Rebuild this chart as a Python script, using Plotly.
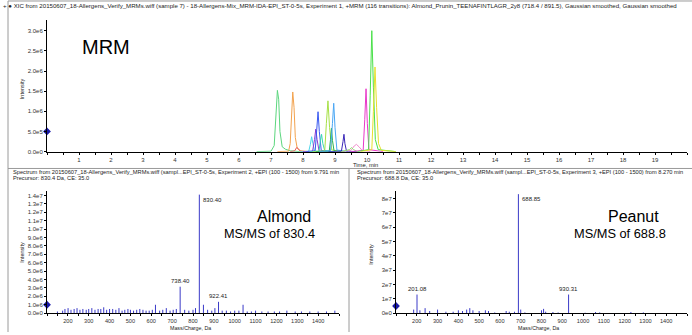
import plotly.graph_objects as go

W, H = 692, 335

# ---------------- data ----------------
# MRM chromatogram traces (time in min, intensity in cps)
t_green1 = [6.55, 7.0, 7.1, 7.15, 7.2, 7.24, 7.28, 7.35, 7.45, 7.6, 7.9]
i_green1 = [0, 1e4, 1.5e5, 8.0e5, 1.52e6, 1.3e6, 5.0e5, 1.2e5, 6e4, 2e4, 0]
t_orange = [7.2, 7.55, 7.6, 7.64, 7.68, 7.72, 7.76, 7.82, 7.9, 8.2]
i_orange = [0, 1e4, 2.0e5, 9.0e5, 1.48e6, 1.1e6, 3.5e5, 8e4, 2e4, 0]
t_red = [7.6, 7.74, 7.8, 7.85, 7.92, 8.1]
i_red = [0, 2e4, 1.0e5, 8e4, 1e4, 0]
t_cyan = [7.9, 8.18, 8.23, 8.27, 8.31, 8.36, 8.6]
i_cyan = [0, 1e4, 1.8e5, 3.7e5, 2.0e5, 1e4, 0]
t_purple = [8.0, 8.3, 8.36, 8.4, 8.44, 8.5, 8.8]
i_purple = [0, 1e4, 3.0e5, 5.6e5, 3.0e5, 2e4, 0]
t_blue = [8.1, 8.38, 8.43, 8.47, 8.51, 8.57, 8.9]
i_blue = [0, 2e4, 5.5e5, 9.9e5, 5.0e5, 3e4, 0]
t_aqua = [8.2, 8.5, 8.54, 8.58, 8.62, 8.68, 9.0]
i_aqua = [0, 1e4, 2.5e5, 4.3e5, 2.0e5, 2e4, 0]
t_lime = [8.3, 8.68, 8.73, 8.78, 8.83, 8.9, 9.3]
i_lime = [0, 2e4, 7.0e5, 1.26e6, 6.0e5, 4e4, 0]
t_dgreen = [8.4, 8.82, 8.86, 8.89, 8.92, 8.97, 9.3]
i_dgreen = [0, 1e4, 3.0e5, 5.8e5, 2.8e5, 2e4, 0]
t_lblue = [8.5, 8.86, 8.92, 8.96, 9.0, 9.06, 9.4]
i_lblue = [0, 2e4, 7.0e5, 1.2e6, 6.0e5, 4e4, 0]
t_indigo = [8.8, 9.2, 9.25, 9.28, 9.31, 9.36, 9.7]
i_indigo = [0, 1e4, 2.5e5, 4.3e5, 2.0e5, 1e4, 0]
t_pink = [9.2, 9.5, 9.6, 9.67, 9.75, 9.85, 10.1]
i_pink = [0, 3e4, 1.4e5, 1.8e5, 1.2e5, 3e4, 0]
t_lgreen = [9.2, 9.45, 9.52, 9.58, 9.7]
i_lgreen = [0, 5e4, 1.0e5, 5e4, 0]
t_magenta = [9.5, 9.88, 9.93, 9.97, 10.01, 10.06, 10.5]
i_magenta = [0, 3e4, 8.0e5, 1.56e6, 7.0e5, 5e4, 0]
t_bgreen = [9.7, 10.05, 10.1, 10.15, 10.2, 10.26, 10.35, 10.9]
i_bgreen = [0, 5e4, 1.4e6, 3.0e6, 1.6e6, 3.0e5, 5e4, 0]
t_yellow = [9.8, 10.15, 10.2, 10.25, 10.3, 10.36, 10.45, 10.9]
i_yellow = [0, 5e4, 1.0e6, 2.1e6, 1.1e6, 2.0e5, 3e4, 0]

chrom_series = [
    (t_green1, i_green1, "#5cd67e"), (t_orange, i_orange, "#f2a24e"),
    (t_red, i_red, "#e85a5a"), (t_cyan, i_cyan, "#4cd6ea"),
    (t_purple, i_purple, "#8a3ad0"), (t_blue, i_blue, "#3a5af0"),
    (t_aqua, i_aqua, "#38d8b2"), (t_lime, i_lime, "#a6e046"),
    (t_dgreen, i_dgreen, "#28b050"), (t_lblue, i_lblue, "#4aa6f4"),
    (t_indigo, i_indigo, "#3a28b8"), (t_pink, i_pink, "#f08ccc"),
    (t_lgreen, i_lgreen, "#90e070"), (t_magenta, i_magenta, "#e838c8"),
    (t_bgreen, i_bgreen, "#4ae04a"), (t_yellow, i_yellow, "#e6e02e"),
]

chrom_ticks = [0, 5e5, 1e6, 1.5e6, 2e6, 2.5e6, 3e6]
chrom_ticktext = ["0.0e0", "5.0e5", "1.0e6", "1.5e6", "2.0e6", "2.5e6", "3.0e6"]
time_ticks = list(range(1, 20))

# Almond MS/MS spectrum (precursor 830.4)
almond_mz = [150, 175, 186, 201, 215, 230, 244, 258, 272, 288, 300, 315, 330, 345,
             358, 372, 386, 400, 415, 430, 445, 460, 473, 488, 500, 515, 530, 545,
             560, 575, 590, 605, 620, 640, 655, 672, 690, 705, 720, 738.40, 760, 780,
             800, 812, 830.40, 850, 870, 890, 905, 922.41, 940, 960, 980, 1000, 1020,
             1040, 1060, 1080, 1100, 1130, 1160, 1190, 1215, 1250, 1290, 1320, 1360,
             1400, 1440, 1480]
almond_int = [2e5, 3e5, 5e5, 6e5, 4e5, 5e5, 6e5, 4e5, 5e5, 4e5, 5e5, 6e5, 4e5, 5e5,
              5e5, 7e5, 4e5, 5e5, 5e5, 4e5, 6e5, 3e5, 4e5, 5e5, 4e5, 3e5, 4e5, 5e5,
              4e5, 3e5, 3e5, 4e5, 1.0e6, 3e5, 4e5, 6e5, 3e5, 4e5, 5e5, 3.15e6, 4e5, 3e5,
              4e5, 6e5, 1.41e7, 1.0e6, 4e5, 3e5, 6e5, 1.35e6, 3e5, 3e5, 2e5, 3e5, 3e5,
              1.0e6, 2e5, 2e5, 3e5, 2e5, 2e5, 2e5, 2e5, 3e5, 2e5, 2e5, 2e5,
              2e5, 2e5, 3e5]
almond_labels = [738.40, 830.40, 922.41]
almond_ticks = [0, 1e6, 2e6, 3e6, 4e6, 5e6, 6e6, 7e6, 8e6, 9e6, 1e7, 1.1e7, 1.2e7, 1.3e7, 1.4e7]
almond_ticktext = ["0.0e0", "1.0e6", "2.0e6", "3.0e6", "4.0e6", "5.0e6", "6.0e6", "7.0e6",
                   "8.0e6", "9.0e6", "1.0e7", "1.1e7", "1.2e7", "1.3e7", "1.4e7"]

# Peanut MS/MS spectrum (precursor 688.8)
peanut_mz = [185, 201.08, 215, 240, 262, 300, 340, 375, 400, 420, 440, 455, 470, 500,
             530, 545, 575, 630, 645, 670, 688.85, 700, 720, 800, 810, 820, 855, 880,
             930.31, 1010, 1060, 1080, 1230, 1290]
peanut_int = [2.5e6, 1.3e7, 2.0e6, 3.5e6, 1.5e6, 2.5e6, 1.0e6, 1.0e6, 2.0e6, 1.5e6,
              2.5e6, 3.5e6, 2.0e6, 1.5e6, 2.0e6, 1.5e6, 5e5, 1.5e6, 1.0e6, 1.0e6,
              8.3e7, 2.5e6, 5e5, 2.0e6, 3.0e6, 1.0e6, 8e5, 5e5, 1.3e7, 3e5, 8e5, 5e5,
              8e5, 5e5]
peanut_labels = [201.08, 688.85, 930.31]
peanut_ticks = [0, 1e7, 2e7, 3e7, 4e7, 5e7, 6e7, 7e7, 8e7]
peanut_ticktext = ["0e0", "1e7", "2e7", "3e7", "4e7", "5e7", "6e7", "7e7", "8e7"]
mz_ticks = list(range(200, 1500, 100))

title_top = ("+ \u25CF XIC from 20150607_18-Allergens_Verify_MRMs.wiff (sample 7) - "
             "18-Allergens-Mix_MRM-IDA-EPI_ST-0-5s, Experiment 1, +MRM (116 transitions): "
             "Almond_Prunin_TEENAFINTLAGR_2y8 (718.4 / 891.5), Gaussian smoothed, Gaussian smoothed")
hdr_left = ("Spectrum from 20150607_18-Allergens_Verify_MRMs.wiff (sampl...EPI_ST-0-5s, "
            "Experiment 2, +EPI (100 - 1500) from 9.791 min")
hdr_left2 = "Precursor: 830.4 Da, CE: 35.0"
hdr_right = ("Spectrum from 20150607_18-Allergens_Verify_MRMs.wiff (sampl...EPI_ST-0-5s, "
             "Experiment 3, +EPI (100 - 1500) from 8.270 min")
hdr_right2 = "Precursor: 688.8 Da, CE: 35.0"

# ---------------- figure ----------------
FONT = "Liberation Sans, Arial, sans-serif"
TICKF = dict(family=FONT, size=6, color="#333333")
MZTICKF = dict(family=FONT, size=5.6, color="#333333")
STICK = "#3a3ac8"


def px(x):
    return x / W


def py(y):
    return 1 - y / H


fig = go.Figure()

for t, i, c in chrom_series:
    fig.add_trace(go.Scatter(x=t, y=i, mode="lines", line=dict(color=c, width=1),
                             xaxis="x", yaxis="y", hoverinfo="skip", showlegend=False))


def sticks(mz, inten):
    xs, ys = [], []
    for m, h in zip(mz, inten):
        xs += [m, m, None]
        ys += [0, h, None]
    return xs, ys


ax, ay = sticks(almond_mz, almond_int)
fig.add_trace(go.Scatter(x=ax, y=ay, mode="lines", line=dict(color=STICK, width=1),
                         xaxis="x2", yaxis="y2", hoverinfo="skip", showlegend=False))
bx, by = sticks(peanut_mz, peanut_int)
fig.add_trace(go.Scatter(x=bx, y=by, mode="lines", line=dict(color=STICK, width=1),
                         xaxis="x3", yaxis="y3", hoverinfo="skip", showlegend=False))

# blue cursor markers at the intensity axes
for xa, ya, xv, yv in [("x", "y", 0, 5e5), ("x2", "y2", 100, 1e6), ("x3", "y3", 100, 5e6)]:
    fig.add_trace(go.Scatter(x=[xv], y=[yv], mode="markers", xaxis=xa, yaxis=ya,
                             marker=dict(symbol="diamond", size=6, color="#1a1aa8"),
                             cliponaxis=False, showlegend=False, hoverinfo="skip"))

common = dict(showline=True, linecolor="black", linewidth=1, ticks="outside",
              ticklen=2, tickwidth=1, tickcolor="black", showgrid=False,
              zeroline=False, fixedrange=True)

fig.update_layout(
    width=W, height=H, margin=dict(l=0, r=0, t=0, b=0),
    paper_bgcolor="white", plot_bgcolor="white", showlegend=False,
    xaxis=dict(domain=[px(47), px(687)], range=[0, 20], anchor="y",
               tickvals=time_ticks, tickfont=TICKF,
               minor=dict(ticks="outside", ticklen=2, dtick=0.5, tickcolor="black"),
               **common),
    yaxis=dict(domain=[py(153), py(20)], range=[0, 3.27e6], anchor="x",
               tickvals=chrom_ticks, ticktext=chrom_ticktext, tickfont=TICKF, **common),
    xaxis2=dict(domain=[px(47), px(339)], range=[100, 1500], anchor="y2",
                tickvals=mz_ticks, tickfont=MZTICKF,
                minor=dict(ticks="outside", ticklen=2, dtick=50, tickcolor="black"),
                **common),
    yaxis2=dict(domain=[py(316), py(193)], range=[0, 1.45e7], anchor="x2",
                tickvals=almond_ticks, ticktext=almond_ticktext, tickfont=TICKF, **common),
    xaxis3=dict(domain=[px(396), px(687)], range=[100, 1500], anchor="y3",
                tickvals=mz_ticks, tickfont=MZTICKF,
                minor=dict(ticks="outside", ticklen=2, dtick=50, tickcolor="black"),
                **common),
    yaxis3=dict(domain=[py(316), py(193)], range=[0, 8.5e7], anchor="x3",
                tickvals=peanut_ticks, ticktext=peanut_ticktext, tickfont=TICKF, **common),
)

# frame lines
GRAY = "#9a9a9a"
for x0, y0, x1, y1 in [(8, 1, 692, 1), (8, 1, 8, 335), (8, 170, 692, 170), (349, 170, 349, 335)]:
    fig.add_shape(type="line", xref="paper", yref="paper", x0=px(x0), y0=py(y0),
                  x1=px(x1), y1=py(y1), line=dict(color=GRAY, width=1))

small = dict(family=FONT, size=6, color="#222222")


def ann(text, x, y, size=6, xanchor="left", yanchor="middle", color="#222222", angle=0, pad=1):
    fig.add_annotation(text=text, xref="paper", yref="paper", x=px(x), y=py(y),
                       xanchor=xanchor, yanchor=yanchor, showarrow=False, textangle=angle,
                       borderpad=pad, font=dict(family=FONT, size=size, color=color))


ann(title_top, 1, 6, size=6.1)
ann(hdr_left, 11, 174, size=5.7)
ann(hdr_left2, 11, 180, size=5.7)
ann(hdr_right, 355, 174, size=5.7)
ann(hdr_right2, 355, 180, size=5.7)
ann("Time, min", 365, 166, size=5.8, xanchor="center")
ann("Mass/Charge, Da", 190, 335, size=5.3, xanchor="center", yanchor="bottom", pad=0)
ann("Mass/Charge, Da", 538, 335, size=5.3, xanchor="center", yanchor="bottom", pad=0)
ann("Intensity", 22, 90, size=5.5, xanchor="center", angle=-90)
ann("Intensity", 22, 255, size=5.5, xanchor="center", angle=-90)
ann("Intensity", 371, 257, size=5.5, xanchor="center", angle=-90)

BIG = "Liberation Sans, Arial, sans-serif"


def big(text, x, y, size, anchor="left"):
    fig.add_annotation(text=text, xref="paper", yref="paper", x=px(x), y=py(y),
                       xanchor=anchor, yanchor="middle", showarrow=False,
                       font=dict(family=BIG, size=size, color="black"))


big("MRM", 80, 47, 20)
big("Almond", 255, 218, 16)
big("MS/MS of 830.4", 222, 236, 12.7)
big("Peanut", 606, 218, 16)
big("MS/MS of 688.8", 572, 236, 12.8)

# peak labels
for m in almond_labels:
    h = almond_int[almond_mz.index(m)]
    if m == 830.40:
        fig.add_annotation(x=m, y=h, xref="x2", yref="y2", text=f"{m:.2f}", showarrow=False,
                           xanchor="left", yanchor="top", xshift=2, font=small)
    else:
        fig.add_annotation(x=m, y=h, xref="x2", yref="y2", text=f"{m:.2f}", showarrow=False,
                           xanchor="center", yanchor="bottom", yshift=1, font=small)
for m in peanut_labels:
    h = peanut_int[peanut_mz.index(m)]
    if m == 688.85:
        fig.add_annotation(x=m, y=h, xref="x3", yref="y3", text=f"{m:.2f}", showarrow=False,
                           xanchor="left", yanchor="top", xshift=2, font=small)
    else:
        fig.add_annotation(x=m, y=h, xref="x3", yref="y3", text=f"{m:.2f}", showarrow=False,
                           xanchor="center", yanchor="bottom", yshift=1, font=small)

fig.write_html("out.html", config={"displayModeBar": False},
               post_script="document.body.style.margin='0';")
